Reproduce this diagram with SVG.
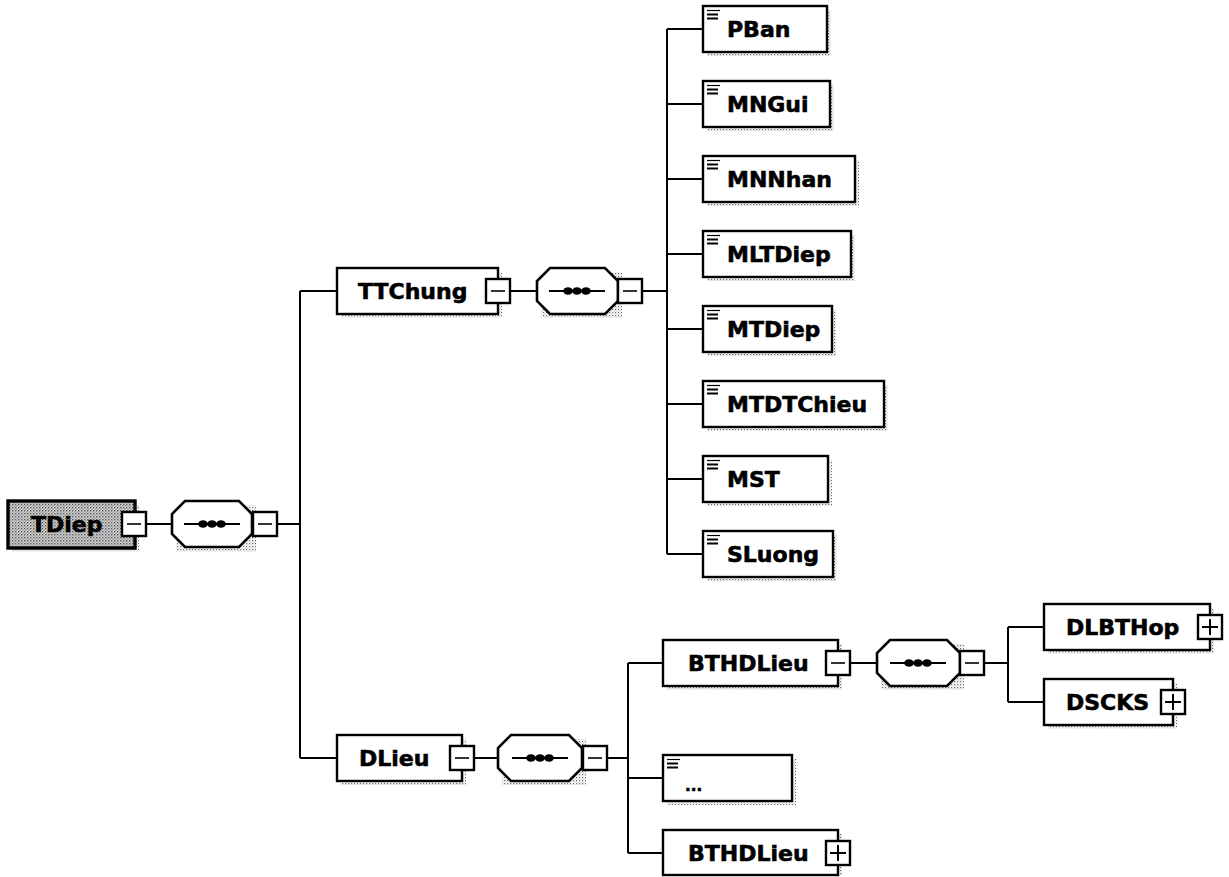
<svg xmlns="http://www.w3.org/2000/svg" width="1229" height="877" viewBox="0 0 1229 877">
<defs>
<pattern id="dots" width="3" height="3" patternUnits="userSpaceOnUse"><rect width="3" height="3" fill="#fff"/><rect x="0" y="0" width="1.2" height="1.2" fill="#666"/><rect x="1.5" y="1.5" width="1" height="1" fill="#aaa"/></pattern>
<pattern id="grey" width="3" height="3" patternUnits="userSpaceOnUse"><rect width="3" height="3" fill="#d6d6d6"/><rect x="0" y="0" width="1.4" height="1.4" fill="#555"/><rect x="1.5" y="1.5" width="1.3" height="1.3" fill="#888"/></pattern>
<g id="ico"><line x1="4" y1="4.5" x2="17" y2="4.5" stroke="#000" stroke-width="1.2"/><line x1="4" y1="8.5" x2="15" y2="8.5" stroke="#000" stroke-width="2"/><line x1="4" y1="12.5" x2="15" y2="12.5" stroke="#000" stroke-width="2"/></g>
<g id="seqin"><line x1="-28" y1="0" x2="28" y2="0" stroke="#000" stroke-width="1.8"/><ellipse cx="-9" cy="0" rx="4.8" ry="3.8"/><ellipse cx="0" cy="0" rx="4.8" ry="3.8"/><ellipse cx="9" cy="0" rx="4.8" ry="3.8"/></g>
<g id="minus"><rect x="-12" y="-12" width="24" height="24" fill="#fff" stroke="#000" stroke-width="2.4"/><line x1="-7" y1="0" x2="7" y2="0" stroke="#000" stroke-width="1.6"/></g>
<g id="plus"><rect x="-12" y="-12" width="24" height="24" fill="#fff" stroke="#000" stroke-width="2.4"/><line x1="-8" y1="0" x2="8" y2="0" stroke="#000" stroke-width="2"/><line x1="0" y1="-8" x2="0" y2="8" stroke="#000" stroke-width="2"/></g>
</defs>
<style>
.box{fill:#fff;stroke:#000;stroke-width:2.4}
.sh{fill:url(#dots)}
.t{font-family:"DejaVu Sans",Verdana,sans-serif;font-weight:bold;font-size:22px;fill:#000;stroke:#000;stroke-width:0.6}
.c{fill:none;stroke:#000;stroke-width:2}
.oct{fill:#fff;stroke:#000;stroke-width:2.6}
</style>
<rect width="1229" height="877" fill="#fff"/>

<g id="connectors">
<path class="c" d="M146 524H172 M278 524H300 M300 291V758 M300 291H337 M300 758H337"/>
<path class="c" d="M510 291H537 M642 291H667 M667 29V554"/>
<path class="c" d="M667 29H703 M667 104H703 M667 179H703 M667 254H703 M667 329H703 M667 404H703 M667 479H703 M667 554H703"/>
<path class="c" d="M474 758H498 M607 758H628 M628 663V853 M628 663H663 M628 778H663 M628 853H663"/>
<path class="c" d="M850 663H877 M985 663H1008 M1008 627V702 M1008 627H1044 M1008 702H1044"/>
</g>

<g id="TDiep">
<rect class="sh" x="12" y="505" width="127" height="47"/>
<rect x="8" y="501" width="127" height="47" fill="url(#grey)" stroke="#000" stroke-width="3.4"/>
<text class="t" x="31" y="532">TDiep</text>
<use href="#minus" x="134" y="524"/>
</g>
<g id="seq1">
<polygon class="sh" points="189,505 256,505 256,552 176,552 176,518"/>
<polygon class="oct" points="185,501 239,501 252,514 252,534 239,547 185,547 172,534 172,514"/>
<use href="#seqin" x="212" y="524"/>
<use href="#minus" x="265" y="524"/>
</g>

<g id="TTChung">
<rect class="sh" x="341" y="272" width="161" height="46"/>
<rect class="box" x="337" y="268" width="161" height="46"/>
<text class="t" x="358" y="299">TTChung</text>
<use href="#minus" x="498" y="291"/>
</g>
<g id="seq2">
<polygon class="sh" points="554,272 622,272 622,318 541,318 541,285"/>
<polygon class="oct" points="550,268 605,268 618,281 618,301 605,314 550,314 537,301 537,281"/>
<use href="#seqin" x="577" y="291"/>
<use href="#minus" x="630" y="291"/>
</g>

<g id="PBan"><rect class="sh" x="707" y="10" width="124" height="46"/><rect class="box" x="703" y="6" width="124" height="46"/><use href="#ico" x="703" y="6"/><text class="t" x="727" y="37">PBan</text></g>
<g id="MNGui"><rect class="sh" x="707" y="85" width="127" height="46"/><rect class="box" x="703" y="81" width="127" height="46"/><use href="#ico" x="703" y="81"/><text class="t" x="727" y="112">MNGui</text></g>
<g id="MNNhan"><rect class="sh" x="707" y="160" width="152" height="46"/><rect class="box" x="703" y="156" width="152" height="46"/><use href="#ico" x="703" y="156"/><text class="t" x="727" y="187">MNNhan</text></g>
<g id="MLTDiep"><rect class="sh" x="707" y="235" width="148" height="46"/><rect class="box" x="703" y="231" width="148" height="46"/><use href="#ico" x="703" y="231"/><text class="t" x="727" y="262">MLTDiep</text></g>
<g id="MTDiep"><rect class="sh" x="707" y="310" width="129" height="46"/><rect class="box" x="703" y="306" width="129" height="46"/><use href="#ico" x="703" y="306"/><text class="t" x="727" y="337">MTDiep</text></g>
<g id="MTDTChieu"><rect class="sh" x="707" y="385" width="181" height="46"/><rect class="box" x="703" y="381" width="181" height="46"/><use href="#ico" x="703" y="381"/><text class="t" x="727" y="412">MTDTChieu</text></g>
<g id="MST"><rect class="sh" x="707" y="460" width="125" height="46"/><rect class="box" x="703" y="456" width="125" height="46"/><use href="#ico" x="703" y="456"/><text class="t" x="727" y="487">MST</text></g>
<g id="SLuong"><rect class="sh" x="707" y="535" width="130" height="46"/><rect class="box" x="703" y="531" width="130" height="46"/><use href="#ico" x="703" y="531"/><text class="t" x="727" y="562">SLuong</text></g>

<g id="DLieu">
<rect class="sh" x="341" y="739" width="125" height="46"/>
<rect class="box" x="337" y="735" width="125" height="46"/>
<text class="t" x="359" y="766">DLieu</text>
<use href="#minus" x="462" y="758"/>
</g>
<g id="seq3">
<polygon class="sh" points="515,739 586,739 586,785 502,785 502,752"/>
<polygon class="oct" points="511,735 569,735 582,748 582,768 569,781 511,781 498,768 498,748"/>
<use href="#seqin" x="540" y="758"/>
<use href="#minus" x="595" y="758"/>
</g>

<g id="BTHDLieu1">
<rect class="sh" x="667" y="644" width="175" height="46"/>
<rect class="box" x="663" y="640" width="175" height="46"/>
<text class="t" x="688" y="671">BTHDLieu</text>
<use href="#minus" x="838" y="663"/>
</g>
<g id="seq4">
<polygon class="sh" points="894,644 964,644 964,690 881,690 881,657"/>
<polygon class="oct" points="890,640 947,640 960,653 960,673 947,686 890,686 877,673 877,653"/>
<use href="#seqin" x="918" y="663"/>
<use href="#minus" x="972" y="663"/>
</g>

<g id="Dots">
<rect class="sh" x="667" y="759" width="129" height="46"/>
<rect class="box" x="663" y="755" width="129" height="46"/>
<use href="#ico" x="663" y="755"/>
<text class="t" x="685" y="791" style="font-size:15px">...</text>
</g>

<g id="BTHDLieu2">
<rect class="sh" x="667" y="834" width="175" height="42"/>
<rect class="box" x="663" y="830" width="175" height="45"/>
<text class="t" x="688" y="861">BTHDLieu</text>
<use href="#plus" x="838" y="853"/>
</g>

<g id="DLBTHop">
<rect class="sh" x="1048" y="608" width="166" height="46"/>
<rect class="box" x="1044" y="604" width="166" height="46"/>
<text class="t" x="1066" y="635">DLBTHop</text>
<use href="#plus" x="1210" y="627"/>
</g>
<g id="DSCKS">
<rect class="sh" x="1048" y="683" width="129" height="46"/>
<rect class="box" x="1044" y="679" width="129" height="46"/>
<text class="t" x="1066" y="710">DSCKS</text>
<use href="#plus" x="1173" y="702"/>
</g>
</svg>
